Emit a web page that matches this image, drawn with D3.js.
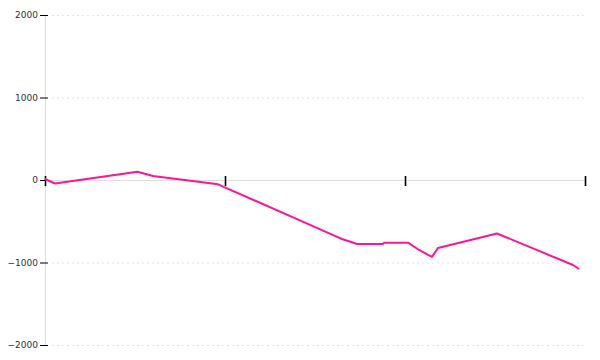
<!DOCTYPE html>
<html>
<head>
<meta charset="utf-8">
<script src="https://cdn.jsdelivr.net/npm/d3@7"></script>
<style>
  body { margin: 0; background: #fff; }
  text { font-family: "DejaVu Sans", sans-serif; font-size: 9px; fill: #333; }
</style>
</head>
<body>
<div id="chart"></div>
<script>
// series
const xValues = [0, 0.056, 0.514, 0.6, 0.961, 1.62, 1.65, 1.734, 1.878, 1.883, 2.017, 2.078, 2.15, 2.183, 2.511, 2.933, 2.967]
const yValues = [12, -42, 100, 48, -52, -687, -715, -776, -776, -760, -760, -848, -933, -824, -648, -1030, -1079]
const yTicks = [-2000, -1000, 0, 1000, 2000]
const xTicks = [0, 1, 2, 3]

const width = 600
const height = 360
const plotLeft = 45
const plotRight = 585
const plotTop = 15
const plotBottom = 345

const svg = d3.select('#chart')
  .append('svg')
  .attr('width', width)
  .attr('height', height)

const scaleX = d3.scaleLinear()
  .domain([0, 3])
  .range([plotLeft, plotRight])

const scaleY = d3.scaleLinear()
  .domain([-2000, 2000])
  .range([plotBottom, plotTop])

// dashed gridlines
svg.append('g')
  .selectAll('line')
  .data(yTicks.filter(d => d !== 0))
  .enter()
  .append('line')
  .attr('x1', plotLeft + 7)
  .attr('x2', plotRight)
  .attr('y1', d => scaleY(d) + 0.5)
  .attr('y2', d => scaleY(d) + 0.5)
  .attr('stroke', '#e3e3e3')
  .attr('stroke-dasharray', '2,3')

// y axis
const yAxis = d3.axisLeft(scaleY)
  .tickValues(yTicks)
  .tickFormat(d3.format('d'))
  .tickSizeInner(5)
  .tickSizeOuter(0)
  .tickPadding(2)
const gy = svg.append('g')
  .attr('transform', `translate(${plotLeft}, 0)`)
  .call(yAxis)
gy.select('.domain').attr('stroke', '#ddd')
gy.selectAll('.tick line').attr('stroke', '#000').attr('x2', 3).attr('x1', -5)
gy.selectAll('.tick text').attr('fill', '#222').style('font-size', '9px')
  .style('font-family', '"DejaVu Sans", sans-serif')

// x axis at zero
const xAxis = d3.axisBottom(scaleX)
  .tickValues(xTicks)
  .tickSizeOuter(0)
  .tickFormat('')
const gx = svg.append('g')
  .attr('transform', `translate(0, ${scaleY(0)})`)
  .call(xAxis)
gx.select('.domain').attr('stroke', '#ddd')
gx.selectAll('.tick line')
  .attr('stroke', '#000')
  .attr('stroke-width', 1.6)
  .attr('y1', -4)
  .attr('y2', 6)

// the series line
const points = xValues.map((x, i) => [x, yValues[i]])
const line = d3.line()
  .x(d => scaleX(d[0]))
  .y(d => scaleY(d[1]))

svg.append('path')
  .datum(points)
  .attr('d', line)
  .attr('fill', 'none')
  .attr('stroke', '#ff1493')
  .attr('stroke-width', 2)
  .attr('stroke-linejoin', 'round')
</script>
</body>
</html>
